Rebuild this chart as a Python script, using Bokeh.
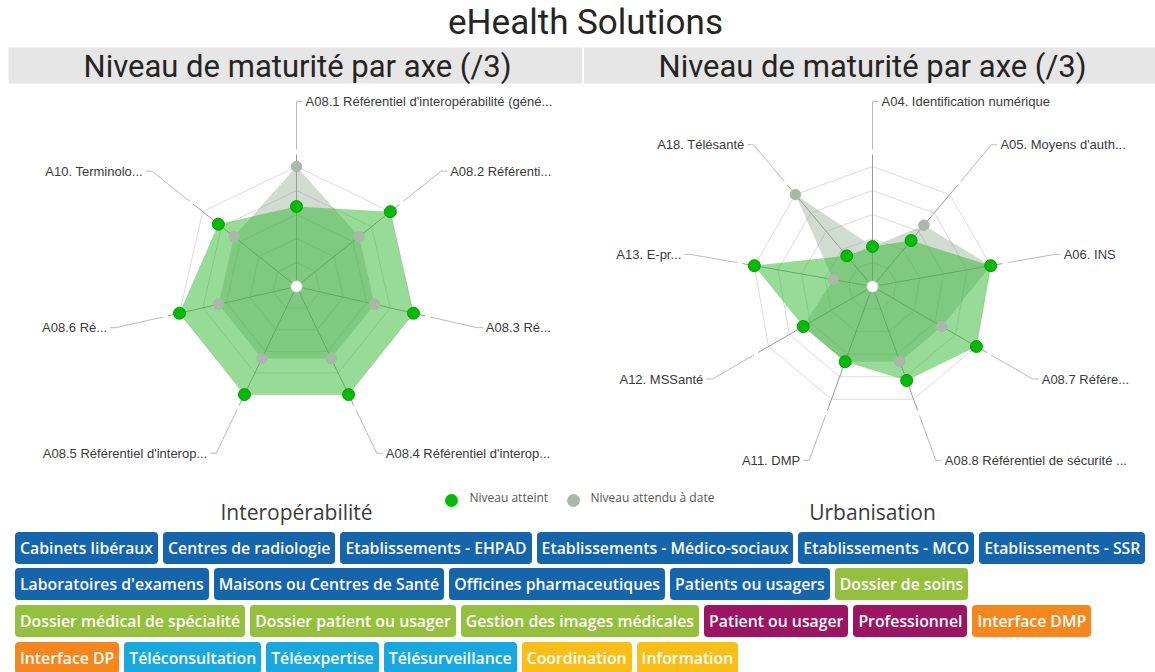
import math
from bokeh.plotting import figure
from bokeh.models import Range1d, Div
from bokeh.layouts import column
from bokeh.embed import file_html
from bokeh.resources import INLINE
from bokeh.core.properties import value

# ---------------- data ----------------
title_text = "eHealth Solutions"
panel_title = "Niveau de maturité par axe (/3)"
MAX_LEVEL = 3
N_RINGS = 5

interop_name = "Interopérabilité"
interop_axes = [
    "A08.1 Référentiel d'interopérabilité (géné...",
    "A08.2 Référenti...",
    "A08.3 Ré...",
    "A08.4 Référentiel d'interop...",
    "A08.5 Référentiel d'interop...",
    "A08.6 Ré...",
    "A10. Terminolo...",
]
interop_atteint = [2, 3, 3, 3, 3, 3, 2.5]
interop_attendu = [3, 2, 2, 2, 2, 2, 2]

urba_name = "Urbanisation"
urba_axes = [
    "A04. Identification numérique",
    "A05. Moyens d'auth...",
    "A06. INS",
    "A08.7 Référe...",
    "A08.8 Référentiel de sécurité ...",
    "A11. DMP",
    "A12. MSSanté",
    "A13. E-pr...",
    "A18. Télésanté",
]
urba_atteint = [1, 1.5, 3, 3, 2.5, 2, 2, 3, 1]
urba_attendu = [1, 2, 3, 2, 2, 2, 2, 1, 3]

legend_labels = ["Niveau atteint", "Niveau attendu à date"]

tag_labels = [
    "Cabinets libéraux", "Centres de radiologie", "Etablissements - EHPAD",
    "Etablissements - Médico-sociaux", "Etablissements - MCO", "Etablissements - SSR",
    "Laboratoires d'examens", "Maisons ou Centres de Santé", "Officines pharmaceutiques",
    "Patients ou usagers", "Dossier de soins",
    "Dossier médical de spécialité", "Dossier patient ou usager", "Gestion des images médicales",
    "Patient ou usager", "Professionnel", "Interface DMP",
    "Interface DP", "Téléconsultation", "Téléexpertise", "Télésurveillance",
    "Coordination", "Information",
]
tag_groups = [
    "lieu", "lieu", "lieu", "lieu", "lieu", "lieu",
    "lieu", "lieu", "lieu", "lieu", "logiciel",
    "logiciel", "logiciel", "logiciel", "identite", "identite", "interface",
    "interface", "tele", "tele", "tele", "parcours", "parcours",
]

# ---------------- styles / layout ----------------
C_ATTEINT = "#04bb04"
C_ATTEINT_FILL = "#2eb82e"
C_ATTENDU = "#a9b8a9"
C_ATTENDU_FILL = "#8fa58f"
group_colors = {
    "lieu": "#1565ad", "logiciel": "#95c03d", "identite": "#9c1462",
    "interface": "#f7861c", "tele": "#17a8e0", "parcours": "#fbbe16",
}
row_sizes = [6, 5, 6, 6]

W, H = 1155, 528
TAGS_H = 144
R = 120.0
ELBOW = 185.0

p = figure(width=W, height=H, output_backend="svg", toolbar_location=None,
           x_range=Range1d(0, W), y_range=Range1d(H, 0),
           min_border=0, outline_line_color=None)
p.axis.visible = False
p.grid.visible = False
p.background_fill_color = "white"
p.border_fill_color = "white"

# title + bands
p.text(x=[585], y=[22], text=[title_text], text_font=value("Roboto"),
       text_font_size="35px", text_align="center", text_baseline="middle",
       text_color="#252423")
p.quad(left=[8, 583.5], right=[581.5, 1155], top=[47, 47], bottom=[83, 83],
       fill_color="#e6e6e6", line_color=None)
p.text(x=[297, 872], y=[66, 66], text=[panel_title, panel_title],
       text_font=value("Roboto"), text_font_size="31px", text_align="center",
       text_baseline="middle", text_color="#252423")


def radar(cx, cy, labels, atteint, attendu, name):
    n = len(labels)
    ang = [2 * math.pi * i / n for i in range(n)]

    def pt(r, a):
        return cx + r * math.sin(a), cy - r * math.cos(a)

    # rings
    rx, ry = [], []
    for k in range(1, N_RINGS + 1):
        rr = R * k / N_RINGS
        pts = [pt(rr, a) for a in ang] + [pt(rr, ang[0])]
        rx.append([q[0] for q in pts])
        ry.append([q[1] for q in pts])
    p.multi_line(rx, ry, line_color="#dcdcdc", line_width=1)

    # axes
    ax_x, ax_y = [], []
    for a in ang:
        x1, y1 = pt(R + 12, a)
        ax_x.append([cx, x1])
        ax_y.append([cy, y1])
    p.multi_line(ax_x, ax_y, line_color="#9a9a9a", line_width=1)

    # leaders + labels
    lx, ly, tx, ty, tt, al = [], [], [], [], [], []
    for a, lab in zip(ang, labels):
        xs, ys = pt(R + 17, a)
        xe, ye = pt(ELBOW, a)
        s = 1 if math.sin(a) > -1e-9 else -1
        lx.append([xs, xe, xe + 6 * s])
        ly.append([ys, ye, ye])
        tx.append(xe + 9 * s)
        ty.append(ye)
        tt.append(lab)
        al.append("left" if s > 0 else "right")
    p.multi_line(lx, ly, line_color="#bbbbbb", line_width=1)
    p.text(x=tx, y=ty, text=tt, text_align=al, text_baseline="middle",
           text_font=value("Liberation Sans"), text_font_size="13px",
           text_color="#3a3a3a")

    # series
    def series_pts(vals):
        pts = [pt(R * v / MAX_LEVEL, a) for v, a in zip(vals, ang)]
        return [q[0] for q in pts], [q[1] for q in pts]

    gx, gy = series_pts(attendu)
    vx, vy = series_pts(atteint)
    p.patch(gx, gy, fill_color=C_ATTENDU_FILL, fill_alpha=0.4, line_color=None)
    p.patch(vx, vy, fill_color=C_ATTEINT_FILL, fill_alpha=0.5, line_color=None)
    p.scatter(gx, gy, size=10.5, fill_color=C_ATTENDU, line_color=C_ATTENDU)
    p.scatter(vx, vy, size=12, fill_color=C_ATTEINT, line_color="#049c04")
    p.scatter([cx], [cy], size=11, fill_color="white", line_color="#dddddd")

    # panel name
    p.text(x=[cx], y=[511], text=[name], text_align="center", text_baseline="middle",
           text_font=value("Open Sans"), text_font_size="21px", text_color="#3a3a3a")


radar(296, 286, interop_axes, interop_atteint, interop_attendu, interop_name)
radar(872, 286, urba_axes, urba_atteint, urba_attendu, urba_name)

# legend
p.scatter([451, 573], [500, 500], size=13, fill_color=[C_ATTEINT, C_ATTENDU],
          line_color=None)
p.text(x=[469, 590], y=[497, 497], text=legend_labels, text_align="left",
       text_baseline="middle", text_font=value("Open Sans"), text_font_size="12px",
       text_color="#555555")

# tags
rows_html = []
i = 0
for n in row_sizes:
    spans = []
    for lab, g in zip(tag_labels[i:i + n], tag_groups[i:i + n]):
        spans.append(
            f'<span style="display:inline-block;background:{group_colors[g]};color:white;'
            f'border-radius:4px;height:32px;line-height:32px;padding:0 5px;'
            f'margin-right:5px;white-space:nowrap">{lab}</span>')
    rows_html.append('<div style="height:32px;margin-bottom:4.7px;white-space:nowrap">'
                     + "".join(spans) + '</div>')
    i += n
tags_html = (f'<div style="width:{W}px;height:{TAGS_H}px;overflow:hidden;box-sizing:border-box;'
             'padding:3.7px 0 0 15px;font-family:\'Open Sans\';font-weight:600;font-size:15.8px;">'
             + "".join(rows_html) + '</div>')
div = Div(text=tags_html, width=W, height=TAGS_H, margin=0)

layout = column(p, div, spacing=0)
open("out.html", "w").write(file_html(layout, INLINE))
